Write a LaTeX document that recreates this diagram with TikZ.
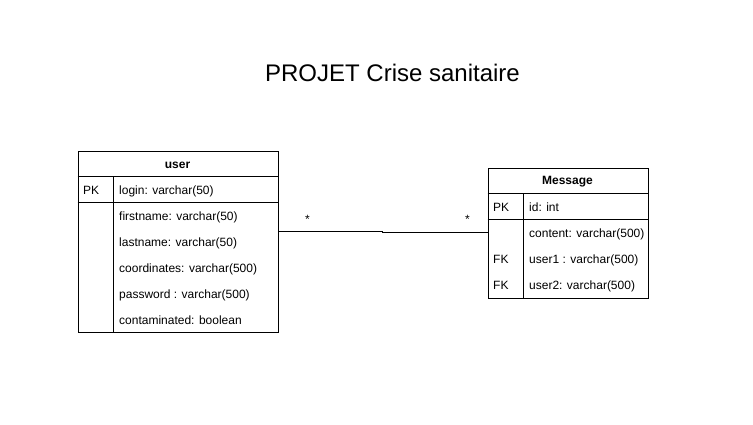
\documentclass[tikz,border=0pt]{standalone}
\usepackage{fontspec}
\setmainfont{Liberation Sans}
\begin{document}
\begin{tikzpicture}[x=1pt,y=-1pt,
  tbl/.style={draw=black,line width=1pt,inner sep=0pt,anchor=north west},
  sep/.style={draw=black,line width=1pt},
  fld/.style={inner sep=0pt,anchor=west,text height=9pt,text depth=2.6pt,font=\fontsize{12}{14}\selectfont},
  hdr/.style={inner sep=0pt,font=\bfseries\fontsize{12}{14}\selectfont},
  mult/.style={inner sep=0pt,font=\fontsize{12}{14}\selectfont},
  conn/.style={draw=black,line width=1pt}]
\useasboundingbox (0,0) rectangle (753,424);
\fill[white] (0,0) rectangle (753,424);

% title
\node[inner sep=0pt,font=\fontsize{24}{28}\selectfont] (title) at (392.5,72.5) {PROJET Crise sanitaire};

% user table
\node[tbl,minimum width=200pt,minimum height=181.5pt] (userbox) at (77.5,150.5) {};
\draw[sep] (77.5,176.5) -- (277.5,176.5);
\draw[sep] (77.5,202.5) -- (277.5,202.5);
\draw[sep] (113.5,176.5) -- (113.5,332);
\node[hdr] (uh) at (177.5,165) {user};
\node[fld] (upk) at (83,191) {PK};
\node[fld] (u1) at (119,191) {login: varchar(50)};
\node[fld] (u2) at (119,217) {firstname: varchar(50)};
\node[fld] (u3) at (119,243) {lastname: varchar(50)};
\node[fld] (u4) at (119,269) {coordinates: varchar(500)};
\node[fld] (u5) at (119,295.5) {password : varchar(500)};
\node[fld] (u6) at (119,321.5) {contaminated: boolean};

% message table
\node[tbl,minimum width=160pt,minimum height=130pt] (msgbox) at (487.5,167.5) {};
\draw[sep] (487.5,193.5) -- (647.5,193.5);
\draw[sep] (487.5,219.5) -- (647.5,219.5);
\draw[sep] (523.5,193.5) -- (523.5,297.5);
\node[hdr] (mh) at (567.5,182) {Message};
\node[fld] (mpk) at (493,208) {PK};
\node[fld] (m1) at (529,208) {id: int};
\node[fld] (m2) at (529,234) {content: varchar(500)};
\node[fld] (mfk1) at (493,260) {FK};
\node[fld] (m3) at (529,260) {user1 : varchar(500)};
\node[fld] (mfk2) at (493,286) {FK};
\node[fld] (m4) at (529,286) {user2: varchar(500)};

% connector
\coordinate (bend1) at (382,231.5);
\coordinate (bend2) at (382,232.5);
\draw[conn] (userbox.east |- bend1) -- (bend1) -- (bend2) -- (msgbox.west |- bend2);
\node[mult] (s1) at (307.5,219) {*};
\node[mult] (s2) at (467.5,219) {*};
\end{tikzpicture}
\end{document}
